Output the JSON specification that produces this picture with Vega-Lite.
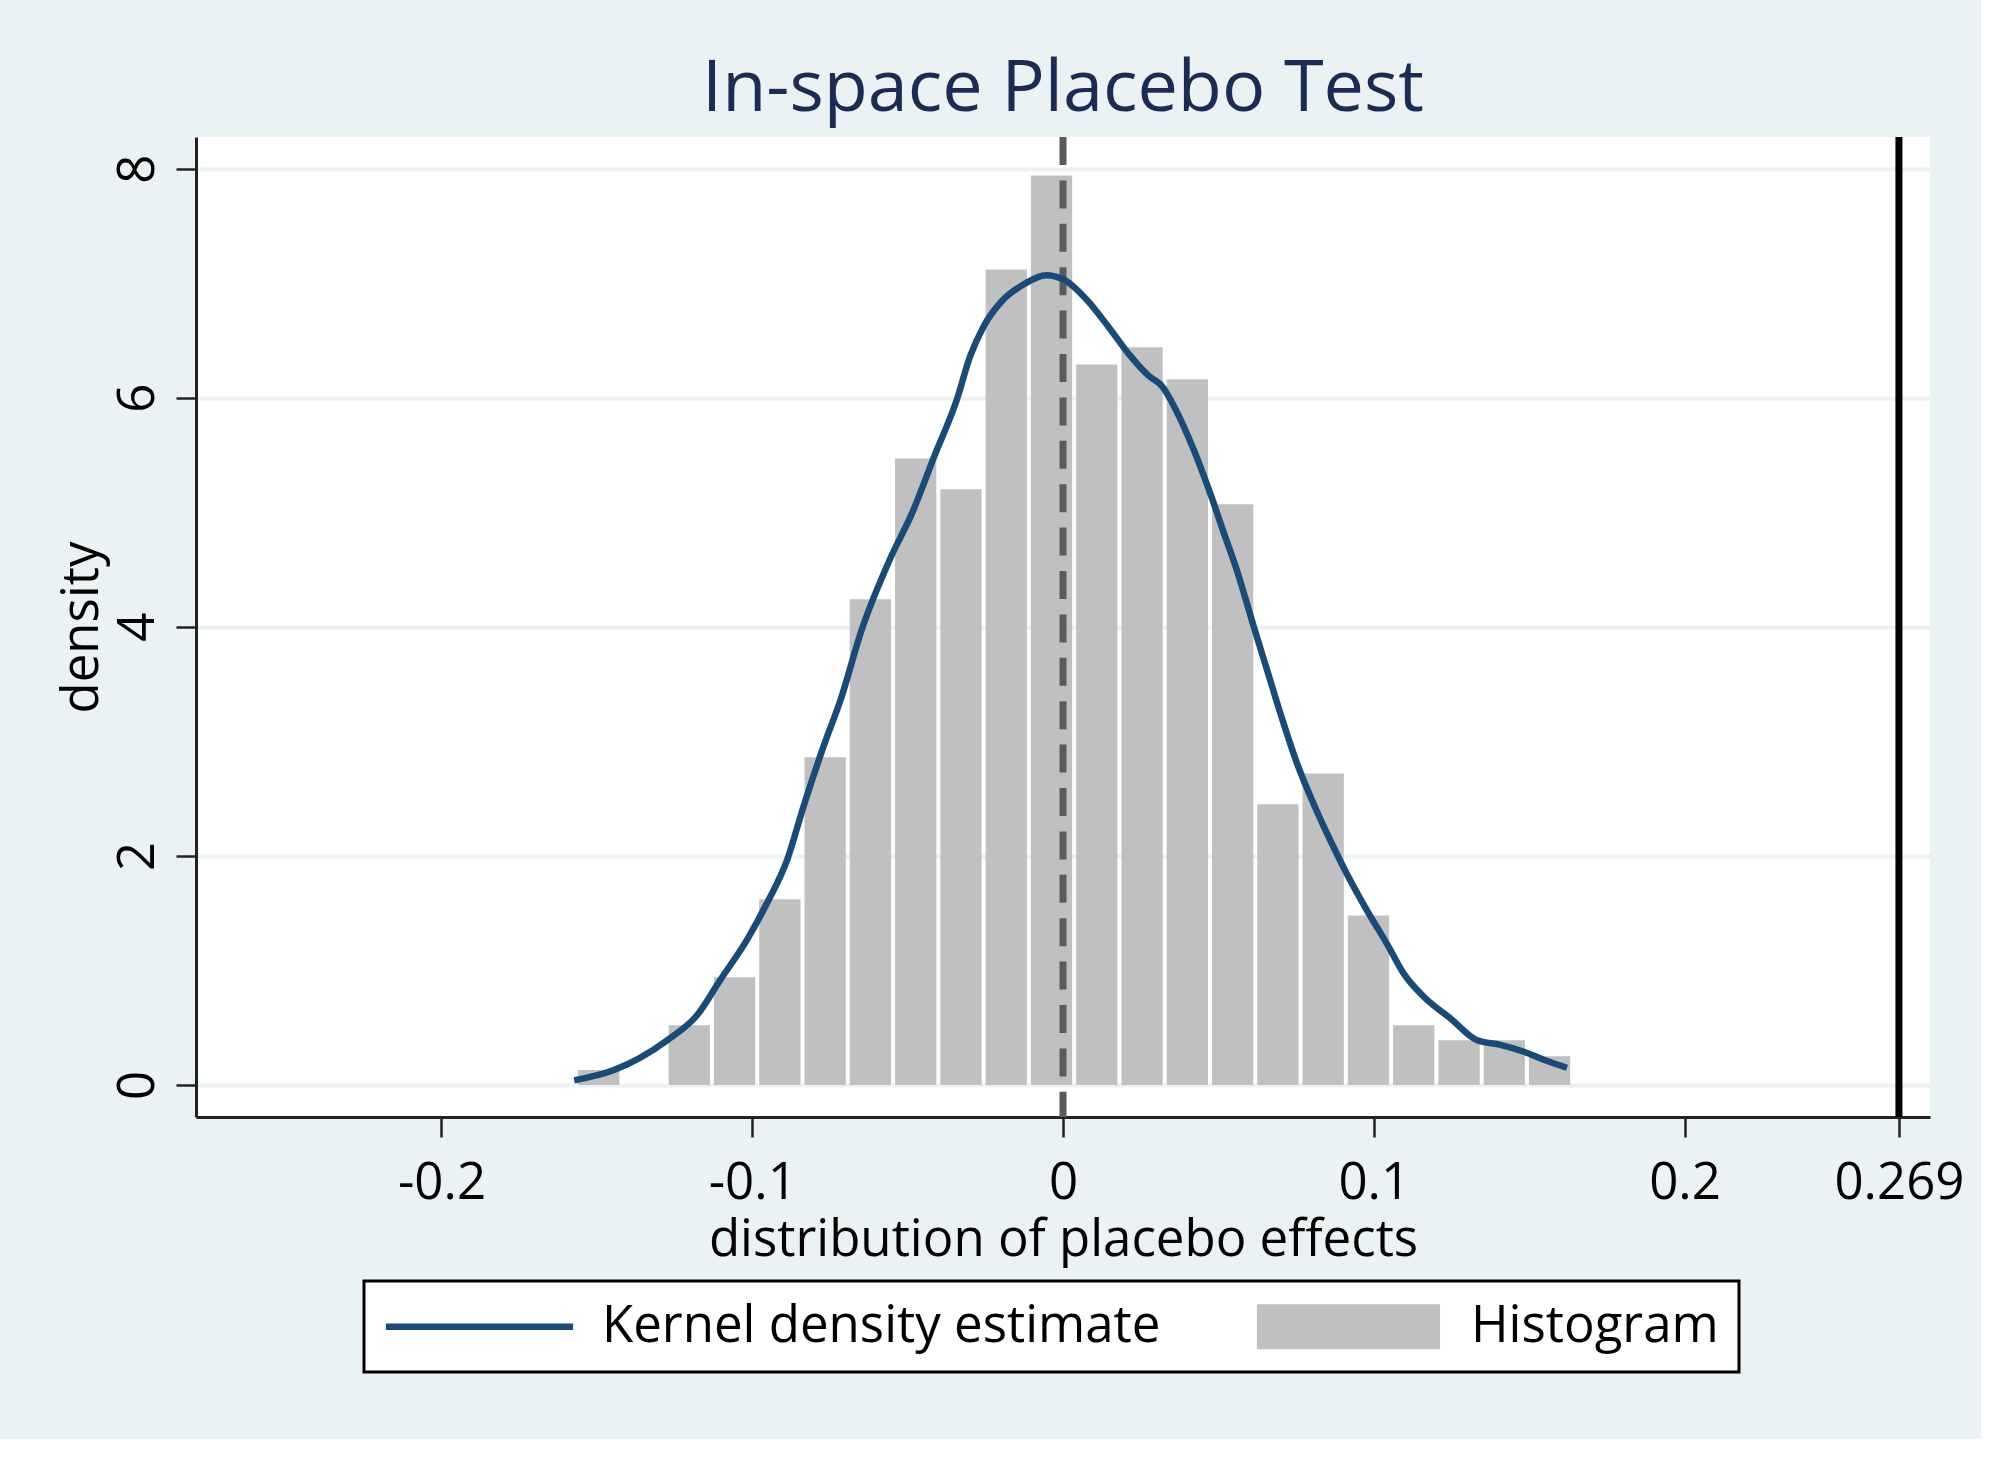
{
  "$schema": "https://vega.github.io/schema/vega-lite/v6.json",
  "autosize": {"type": "none"},
  "padding": {"left": 196, "top": 137, "right": 51, "bottom": 322},
  "width": 1734,
  "height": 980,
  "background": "#EAF2F3",
  "title": {
    "text": "In-space Placebo Test",
    "font": "Open Sans",
    "fontSize": 72,
    "fontWeight": "normal",
    "color": "#1c2b54",
    "anchor": "middle",
    "frame": "group",
    "baseline": "alphabetic",
    "offset": -49
  },
  "config": {
    "view": {"fill": "white", "stroke": null},
    "axis": {
      "labelFont": "Open Sans",
      "titleFont": "Open Sans",
      "labelFontSize": 51,
      "titleFontSize": 51,
      "labelColor": "black",
      "titleColor": "black",
      "titleFontWeight": "normal",
      "domainColor": "#222222",
      "domainWidth": 3,
      "tickColor": "#222222",
      "tickWidth": 2.5,
      "tickSize": 20,
      "labelOverlap": false,
      "labelFlush": false
    },
    "legend": {
      "title": null,
      "orient": "none",
      "legendX": 168,
      "legendY": 1144,
      "direction": "horizontal",
      "columns": 2,
      "padding": 20,
      "strokeColor": "black",
      "fillColor": "white",
      "labelFont": "Open Sans",
      "labelFontSize": 51,
      "labelColor": "black",
      "labelLimit": 1000,
      "symbolSize": 2025,
      "symbolStrokeWidth": 0,
      "symbolOffset": 70,
      "labelOffset": 97,
      "columnPadding": 92
    }
  },
  "datasets": {
    "hist": [
      {"bin_start": -0.15685, "bin_end": -0.14228, "density": 0.13},
      {"bin_start": -0.12771, "bin_end": -0.11314, "density": 0.52},
      {"bin_start": -0.11314, "bin_end": -0.09856, "density": 0.94},
      {"bin_start": -0.09856, "bin_end": -0.08399, "density": 1.62},
      {"bin_start": -0.08399, "bin_end": -0.06942, "density": 2.86},
      {"bin_start": -0.06942, "bin_end": -0.05485, "density": 4.24},
      {"bin_start": -0.05485, "bin_end": -0.04028, "density": 5.47},
      {"bin_start": -0.04028, "bin_end": -0.02571, "density": 5.20},
      {"bin_start": -0.02571, "bin_end": -0.01114, "density": 7.12},
      {"bin_start": -0.01114, "bin_end": 0.00343, "density": 7.94},
      {"bin_start": 0.00343, "bin_end": 0.01800, "density": 6.29},
      {"bin_start": 0.01800, "bin_end": 0.03257, "density": 6.44},
      {"bin_start": 0.03257, "bin_end": 0.04714, "density": 6.16},
      {"bin_start": 0.04714, "bin_end": 0.06171, "density": 5.07},
      {"bin_start": 0.06171, "bin_end": 0.07628, "density": 2.45},
      {"bin_start": 0.07628, "bin_end": 0.09085, "density": 2.72},
      {"bin_start": 0.09085, "bin_end": 0.10542, "density": 1.48},
      {"bin_start": 0.10542, "bin_end": 0.11999, "density": 0.52},
      {"bin_start": 0.11999, "bin_end": 0.13456, "density": 0.39},
      {"bin_start": 0.13456, "bin_end": 0.14913, "density": 0.39},
      {"bin_start": 0.14913, "bin_end": 0.16370, "density": 0.25}
    ],
    "kde": [
      {"x": -0.1573, "y": 0.04},
      {"x": -0.1445, "y": 0.13},
      {"x": -0.1274, "y": 0.39},
      {"x": -0.1177, "y": 0.61},
      {"x": -0.1102, "y": 0.92},
      {"x": -0.1016, "y": 1.27},
      {"x": -0.0952, "y": 1.59},
      {"x": -0.0887, "y": 1.97},
      {"x": -0.0834, "y": 2.44},
      {"x": -0.0770, "y": 2.96},
      {"x": -0.0716, "y": 3.36},
      {"x": -0.0647, "y": 3.98},
      {"x": -0.0557, "y": 4.59},
      {"x": -0.0486, "y": 4.99},
      {"x": -0.0414, "y": 5.49},
      {"x": -0.0342, "y": 5.98},
      {"x": -0.0299, "y": 6.36},
      {"x": -0.0256, "y": 6.62},
      {"x": -0.0198, "y": 6.84},
      {"x": -0.0126, "y": 6.99},
      {"x": -0.0055, "y": 7.07},
      {"x": 0.0003, "y": 7.03},
      {"x": 0.0075, "y": 6.86},
      {"x": 0.0146, "y": 6.62},
      {"x": 0.0218, "y": 6.36},
      {"x": 0.0276, "y": 6.19},
      {"x": 0.0319, "y": 6.10},
      {"x": 0.0362, "y": 5.90},
      {"x": 0.0420, "y": 5.55},
      {"x": 0.0477, "y": 5.14},
      {"x": 0.0520, "y": 4.80},
      {"x": 0.0560, "y": 4.49},
      {"x": 0.0614, "y": 4.00},
      {"x": 0.0657, "y": 3.62},
      {"x": 0.0700, "y": 3.24},
      {"x": 0.0754, "y": 2.80},
      {"x": 0.0807, "y": 2.45},
      {"x": 0.0861, "y": 2.13},
      {"x": 0.0914, "y": 1.84},
      {"x": 0.0979, "y": 1.52},
      {"x": 0.1043, "y": 1.23},
      {"x": 0.1097, "y": 0.97},
      {"x": 0.1161, "y": 0.77},
      {"x": 0.1247, "y": 0.58},
      {"x": 0.1333, "y": 0.39},
      {"x": 0.1408, "y": 0.35},
      {"x": 0.1483, "y": 0.29},
      {"x": 0.1547, "y": 0.22},
      {"x": 0.1622, "y": 0.15}
    ],
    "lines": [{}]
  },
  "layer": [
    {
      "data": {"name": "hist"},
      "mark": {"type": "bar", "binSpacing": 4, "fill": "#b9b9b9", "opacity": 0.9},
      "encoding": {
        "x": {
          "field": "bin_start",
          "type": "quantitative",
          "bin": "binned",
          "scale": {"domain": [-0.279, 0.279], "nice": false, "zero": false},
          "axis": {
            "title": "distribution of placebo effects",
            "values": [-0.2, -0.1, 0, 0.1, 0.2, 0.269],
            "labelExpr": "'' + datum.value",
            "grid": false,
            "labelBaseline": "alphabetic",
            "labelPadding": 61,
            "titleX": 867,
            "titleY": 138,
            "titleBaseline": "alphabetic",
            "titleAlign": "center"
          }
        },
        "x2": {"field": "bin_end"},
        "y": {
          "field": "density",
          "type": "quantitative",
          "scale": {"domain": [-0.28, 8.276], "nice": false, "zero": false},
          "axis": {
            "title": "density",
            "values": [0, 2, 4, 6, 8],
            "labelExpr": "'' + datum.value",
            "grid": true,
            "gridColor": "#EAF2F3",
            "gridWidth": 4,
            "labelAngle": -90,
            "labelAlign": "center",
            "labelBaseline": "alphabetic",
            "labelPadding": 23,
            "titleAngle": 270,
            "titleX": -99,
            "titleY": 490,
            "titleAlign": "center",
            "titleBaseline": "alphabetic"
          }
        },
        "color": {
          "datum": "Histogram",
          "type": "nominal",
          "scale": {
            "domain": ["Kernel density estimate", "Histogram"],
            "range": ["#1A4A78", "#C0C0C0"]
          },
          "legend": {
            "labelExpr": "datum.label === 'Histogram' ? 'Histogram  ' : datum.label",
            "encoding": {
              "legend": {
                "strokeWidth": {"value": 3}
              },
              "symbols": {
                "shape": {"value": {"expr": "datum.value === 'Histogram' ? 'M-4.07,-1H4.07V1H-4.07Z' : 'M-4.16,-0.14H4.16V0.14H-4.16Z'"}},
                "opacity": {"value": 1}
              }
            }
          }
        }
      }
    },
    {
      "data": {"name": "lines"},
      "mark": {"type": "rule", "color": "#5a5a5a", "strokeWidth": 7, "strokeDash": [28, 15.4]},
      "encoding": {
        "x": {"datum": 0, "type": "quantitative", "title": "distribution of placebo effects"}
      }
    },
    {
      "data": {"name": "lines"},
      "mark": {"type": "rule", "color": "black", "strokeWidth": 7},
      "encoding": {
        "x": {"datum": 0.269, "type": "quantitative", "title": "distribution of placebo effects"}
      }
    },
    {
      "data": {"name": "kde"},
      "mark": {"type": "line", "strokeWidth": 6.5, "interpolate": "monotone"},
      "encoding": {
        "x": {"field": "x", "type": "quantitative", "title": "distribution of placebo effects"},
        "y": {"field": "y", "type": "quantitative", "title": "density"},
        "color": {"datum": "Kernel density estimate", "type": "nominal"}
      }
    }
  ]
}
